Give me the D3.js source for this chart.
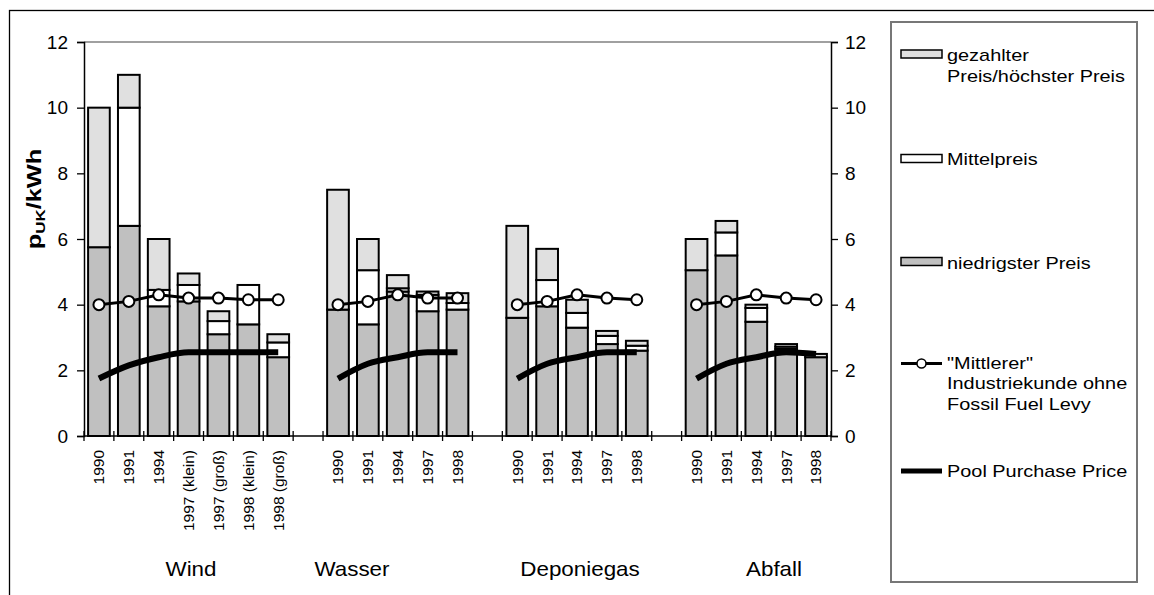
<!DOCTYPE html>
<html>
<head>
<meta charset="utf-8">
<script src="https://cdn.jsdelivr.net/npm/d3@7"></script>
<style>
  html, body { margin: 0; padding: 0; background: #fff; }
  svg { display: block; font-family: "Liberation Sans", Arial, sans-serif; }
</style>
</head>
<body>
<svg id="chart" width="1154" height="595"></svg>
<script>
// ---------------- data ----------------
const groupNames = ["Wind", "Wasser", "Deponiegas", "Abfall"];
const groupLabelX = [191, 352, 580, 774];

const windYears = ["1990", "1991", "1994", "1997 (klein)", "1997 (groß)", "1998 (klein)", "1998 (groß)"];
const windLow = [5.75, 6.4, 3.95, 4.1, 3.1, 3.4, 2.4];
const windMid = [5.75, 10, 4.45, 4.6, 3.5, 4.6, 2.85];
const windHigh = [10, 11, 6, 4.95, 3.8, 4.6, 3.1];
const windMittlerer = [4.0, 4.1, 4.3, 4.2, 4.2, 4.15, 4.15];
const windPool = [1.75, 2.15, 2.4, 2.55, 2.55, 2.55, 2.55];

const wasserYears = ["1990", "1991", "1994", "1997", "1998"];
const wasserLow = [3.85, 3.4, 4.4, 3.8, 3.85];
const wasserMid = [3.85, 5.05, 4.5, 4.3, 4.05];
const wasserHigh = [7.5, 6, 4.9, 4.4, 4.35];
const wasserMittlerer = [4.0, 4.1, 4.3, 4.2, 4.2];
const wasserPool = [1.75, 2.2, 2.4, 2.55, 2.55];

const deponieYears = ["1990", "1991", "1994", "1997", "1998"];
const deponieLow = [3.6, 3.95, 3.3, 2.8, 2.6];
const deponieMid = [3.6, 4.75, 3.75, 3.05, 2.75];
const deponieHigh = [6.4, 5.7, 4.15, 3.2, 2.9];
const deponieMittlerer = [4.0, 4.1, 4.3, 4.2, 4.15];
const deponiePool = [1.75, 2.2, 2.4, 2.55, 2.55];

const abfallYears = ["1990", "1991", "1994", "1997", "1998"];
const abfallLow = [5.05, 5.5, 3.48, 2.65, 2.4];
const abfallMid = [5.05, 6.2, 3.9, 2.72, 2.4];
const abfallHigh = [6, 6.55, 4.0, 2.8, 2.5];
const abfallMittlerer = [4.0, 4.1, 4.3, 4.2, 4.15];
const abfallPool = [1.75, 2.2, 2.4, 2.55, 2.5];

const yTicks = [0, 2, 4, 6, 8, 10, 12];

const legendLabels = [
  ["gezahlter", "Preis/höchster Preis"],
  ["Mittelpreis"],
  ["niedrigster Preis"],
  ["\"Mittlerer\"", "Industriekunde ohne", "Fossil Fuel Levy"],
  ["Pool Purchase Price"]
];

// ---------------- build ----------------
const groups = [
  {name: groupNames[0], years: windYears, low: windLow, mid: windMid, high: windHigh, mitt: windMittlerer, pool: windPool},
  {name: groupNames[1], years: wasserYears, low: wasserLow, mid: wasserMid, high: wasserHigh, mitt: wasserMittlerer, pool: wasserPool},
  {name: groupNames[2], years: deponieYears, low: deponieLow, mid: deponieMid, high: deponieHigh, mitt: deponieMittlerer, pool: deponiePool},
  {name: groupNames[3], years: abfallYears, low: abfallLow, mid: abfallMid, high: abfallHigh, mitt: abfallMittlerer, pool: abfallPool}
];

const keys = [];
const rows = [];
groups.forEach((g, gi) => {
  if (gi > 0) keys.push("gap" + gi);
  g.years.forEach((yr, i) => {
    const k = g.name + "|" + yr;
    keys.push(k);
    rows.push({key: k, group: g.name, year: yr, low: g.low[i], mid: g.mid[i], high: g.high[i], mitt: g.mitt[i], pool: g.pool[i]});
  });
});

const svg = d3.select("#chart");
const L = 84, R = 831, T = 42, B = 436;

const x = d3.scaleBand().domain(keys).range([L, R]).paddingInner(0.274).paddingOuter(0.137);
const y = d3.scaleLinear().domain([0, 12]).range([B, T]);
const cx = k => x(k) + x.bandwidth() / 2;

// outer frame
svg.append("rect").attr("x", 9.5).attr("y", 10.5).attr("width", 1200).attr("height", 700)
  .attr("fill", "none").attr("stroke", "#000").attr("stroke-width", 1.3);

// plot top border
svg.append("line").attr("x1", L).attr("x2", R).attr("y1", y(12)).attr("y2", y(12))
  .attr("stroke", "#808080").attr("stroke-width", 1.5);

// bars
const segs = [];
rows.forEach(r => {
  segs.push({k: r.key, a: 0, b: r.low, fill: "#c0c0c0"});
  if (r.mid > r.low) segs.push({k: r.key, a: r.low, b: r.mid, fill: "#ffffff"});
  if (r.high > r.mid) segs.push({k: r.key, a: r.mid, b: r.high, fill: "#e0e0e0"});
});
svg.append("g").selectAll("rect").data(segs).join("rect")
  .attr("x", d => x(d.k))
  .attr("width", x.bandwidth())
  .attr("y", d => y(d.b))
  .attr("height", d => y(d.a) - y(d.b))
  .attr("fill", d => d.fill)
  .attr("stroke", "#000")
  .attr("stroke-width", 2);

// axes
const axL = svg.append("g").attr("transform", `translate(${L},0)`)
  .call(d3.axisLeft(y).tickValues(yTicks).tickSize(7).tickPadding(9).tickFormat(d3.format("d")));
const axR = svg.append("g").attr("transform", `translate(${R},0)`)
  .call(d3.axisRight(y).tickValues(yTicks).tickSize(7).tickPadding(7).tickFormat(d3.format("d")));
[axL, axR].forEach(a => {
  a.select(".domain").attr("stroke", "#000").attr("stroke-width", 1.5);
  a.selectAll(".tick line").attr("stroke", "#000").attr("stroke-width", 1.3);
  a.selectAll(".tick text").attr("font-size", 19).attr("fill", "#000")
    .attr("font-family", "Liberation Sans, Arial, sans-serif");
});

// x axis line + crossing ticks at slot boundaries
svg.append("line").attr("x1", L).attr("x2", R).attr("y1", B).attr("y2", B)
  .attr("stroke", "#000").attr("stroke-width", 1.5);
svg.append("g").selectAll("line").data(d3.range(keys.length + 1)).join("line")
  .attr("x1", i => L + i * x.step()).attr("x2", i => L + i * x.step())
  .attr("y1", B - 5).attr("y2", B + 5)
  .attr("stroke", "#000").attr("stroke-width", 1.3);

// year labels
svg.append("g").selectAll("text").data(rows).join("text")
  .attr("transform", d => `translate(${cx(d.key)},450) rotate(-90)`)
  .attr("text-anchor", "end")
  .attr("dy", "0.35em")
  .attr("font-size", 15.5)
  .text(d => d.year);

// group labels
svg.append("g").selectAll("text").data(groupNames).join("text")
  .attr("transform", (d, i) => `translate(${groupLabelX[i]},576) scale(1.12,1)`)
  .attr("text-anchor", "middle")
  .attr("font-size", 20)
  .text(d => d);

// lines per group
groups.forEach(g => {
  const gr = rows.filter(r => r.group === g.name);
  const poolLine = d3.line().x(d => cx(d.key)).y(d => y(d.pool)).curve(d3.curveMonotoneX);
  svg.append("path").datum(gr).attr("d", poolLine)
    .attr("fill", "none").attr("stroke", "#000").attr("stroke-width", 6);
  const mLine = d3.line().x(d => cx(d.key)).y(d => y(d.mitt));
  svg.append("path").datum(gr).attr("d", mLine)
    .attr("fill", "none").attr("stroke", "#000").attr("stroke-width", 3);
  svg.append("g").selectAll("circle").data(gr).join("circle")
    .attr("cx", d => cx(d.key)).attr("cy", d => y(d.mitt)).attr("r", 5.5)
    .attr("fill", "#fff").attr("stroke", "#000").attr("stroke-width", 2);
});

// y label
const yl = svg.append("text")
  .attr("transform", "translate(41,199) rotate(-90) scale(1.3,1)")
  .attr("text-anchor", "middle")
  .attr("font-weight", "bold")
  .attr("font-size", 19.5);
yl.append("tspan").text("p");
yl.append("tspan").attr("font-size", 13).attr("dy", 4).text("UK");
yl.append("tspan").attr("dy", -4).text("/kWh");

// legend
svg.append("rect").attr("x", 891).attr("y", 22).attr("width", 246).attr("height", 560)
  .attr("fill", "none").attr("stroke", "#777").attr("stroke-width", 2);

const sw = [{y: 50, fill: "#e0e0e0"}, {y: 154.5, fill: "#ffffff"}, {y: 257.5, fill: "#c0c0c0"}];
svg.append("g").selectAll("rect").data(sw).join("rect")
  .attr("x", 901).attr("y", d => d.y).attr("width", 41).attr("height", 8)
  .attr("fill", d => d.fill).attr("stroke", "#000").attr("stroke-width", 1.5);
svg.append("line").attr("x1", 901).attr("x2", 942).attr("y1", 363.5).attr("y2", 363.5)
  .attr("stroke", "#000").attr("stroke-width", 3);
svg.append("circle").attr("cx", 921.5).attr("cy", 363.5).attr("r", 4.5)
  .attr("fill", "#fff").attr("stroke", "#000").attr("stroke-width", 1.5);
svg.append("line").attr("x1", 901).attr("x2", 942).attr("y1", 471).attr("y2", 471)
  .attr("stroke", "#000").attr("stroke-width", 5);

const legBase = [61, 164.5, 268.5, 368.5, 477];
legendLabels.forEach((lines, i) => {
  lines.forEach((t, j) => {
    svg.append("text")
      .attr("transform", `translate(947,${legBase[i] + j * 20.5}) scale(1.17,1)`)
      .attr("font-size", 17)
      .text(t);
  });
});
</script>
</body>
</html>
